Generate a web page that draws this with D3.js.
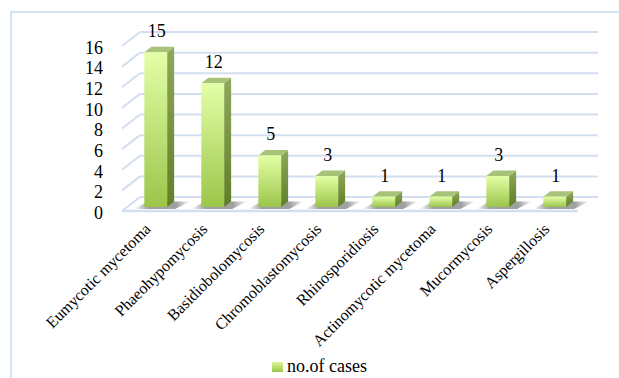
<!DOCTYPE html>
<html><head><meta charset="utf-8">
<script src="https://cdn.jsdelivr.net/npm/d3@7"></script>
</head>
<body style="margin:0">
<script>
const categories = ["Eumycotic mycetoma","Phaeohypomycosis","Basidiobolomycosis","Chromoblastomycosis","Rhinosporidiosis","Actinomycotic mycetoma","Mucormycosis","Aspergillosis"];
const cases = [15,12,5,3,1,1,3,1];
const yTicks = [0,2,4,6,8,10,12,14,16];
const seriesName = "no.of cases";

const W = 619, H = 378;
const FONT = '"Liberation Serif", "Times New Roman", serif';
const svg = d3.select("body").append("svg").attr("width", W).attr("height", H).style("display","block");
const defs = svg.append("defs");

const gFront = defs.append("linearGradient").attr("id","gFront").attr("x1",0).attr("y1",0).attr("x2",0).attr("y2",1);
gFront.append("stop").attr("offset","0%").attr("stop-color","#e3ffa6");
gFront.append("stop").attr("offset","100%").attr("stop-color","#9cc54a");
const gSide = defs.append("linearGradient").attr("id","gSide").attr("x1",0).attr("y1",0).attr("x2",0).attr("y2",1);
gSide.append("stop").attr("offset","0%").attr("stop-color","#8ea85c");
gSide.append("stop").attr("offset","100%").attr("stop-color","#5f7f27");
const gLeg = defs.append("linearGradient").attr("id","gLeg").attr("x1",0).attr("y1",0).attr("x2",0).attr("y2",1);
gLeg.append("stop").attr("offset","0%").attr("stop-color","#dcf89c");
gLeg.append("stop").attr("offset","100%").attr("stop-color","#9cc54a");
const gShadow = defs.append("linearGradient").attr("id","gShadow").attr("x1",0).attr("y1",0).attr("x2",1).attr("y2",0);
gShadow.append("stop").attr("offset","0%").attr("stop-color","#777").attr("stop-opacity",0);
gShadow.append("stop").attr("offset","25%").attr("stop-color","#777").attr("stop-opacity",0.7);
gShadow.append("stop").attr("offset","75%").attr("stop-color","#777").attr("stop-opacity",0.7);
gShadow.append("stop").attr("offset","100%").attr("stop-color","#777").attr("stop-opacity",0);

// outer border
svg.append("rect").attr("x",11).attr("y",12).attr("width",W).attr("height",H)
  .attr("fill","none").attr("stroke","#d5e2f3").attr("stroke-width",2);

// 3D geometry
const depthX = 18, depthY = -14;
const xScale = d3.scaleBand().domain(categories).range([122, 578]).paddingInner(0.6).paddingOuter(0.3);
const yFront = d3.scaleLinear().domain([0,16]).range([211, 46]);
const dFront = 0.29, dBack = 0.68;

const grid = svg.append("g");
const gridColor = "#d3dff0";
yTicks.forEach(t => {
  const yb = yFront(t) + depthY;
  grid.append("line").attr("x1",122+depthX).attr("x2",598).attr("y1",yb).attr("y2",yb)
    .attr("stroke",gridColor).attr("stroke-width",2);
  grid.append("line").attr("x1",122).attr("y1",yFront(t)).attr("x2",122+depthX).attr("y2",yb)
    .attr("stroke",gridColor).attr("stroke-width",2);
});
grid.append("line").attr("x1",122).attr("x2",578).attr("y1",yFront(0)).attr("y2",yFront(0))
  .attr("stroke",gridColor).attr("stroke-width",2.5);

// y tick labels
svg.append("g").selectAll("text").data(yTicks).join("text")
  .attr("x",103).attr("y",d=>yFront(d)+1.5).attr("dy","0.35em")
  .style("font-family",FONT)
  .attr("text-anchor","end").attr("font-size",18).attr("fill","#000").text(d=>d);

const bw = xScale.bandwidth();
const dx1 = depthX*dFront, dy1 = depthY*dFront;
const ddx = depthX*(dBack-dFront), ddy = depthY*(dBack-dFront);

// shadows
const sh = svg.append("g");
categories.forEach((c,i)=>{
  const x0 = xScale(c)+dx1, y0 = yFront(0)+dy1;
  sh.append("path")
    .attr("d",`M${x0-10},${y0+2} L${x0+bw+8},${y0+2} L${x0+bw+ddx+16},${y0+ddy} L${x0+ddx-4},${y0+ddy} Z`)
    .attr("fill","url(#gShadow)");
});

// bars
const bars = svg.append("g");
categories.forEach((c,i)=>{
  const v = cases[i];
  const x0 = xScale(c)+dx1;
  const yb = yFront(0)+dy1, yt = yFront(v)+dy1;
  bars.append("path")
    .attr("d",`M${x0+bw},${yt} L${x0+bw+ddx},${yt+ddy} L${x0+bw+ddx},${yb+ddy} L${x0+bw},${yb} Z`)
    .attr("fill","url(#gSide)");
  bars.append("path")
    .attr("d",`M${x0},${yt} L${x0+ddx},${yt+ddy} L${x0+bw+ddx},${yt+ddy} L${x0+bw},${yt} Z`)
    .attr("fill","#a6c378");
  bars.append("rect").attr("x",x0).attr("y",yt).attr("width",bw).attr("height",yb-yt)
    .attr("fill","url(#gFront)");
  bars.append("text").attr("x",x0+bw/2+1).attr("y",yt-15).attr("text-anchor","middle")
    .style("font-family",FONT)
    .attr("font-size",18).attr("fill","#000").text(v);
});

// category labels
svg.append("g").selectAll("text").data(categories).join("text")
  .attr("transform",d=>`translate(${xScale(d)+bw/2+1},${230}) rotate(-45)`)
  .style("font-family",FONT)
  .attr("text-anchor","end").attr("font-size",16).attr("fill","#000").text(d=>d);

// legend
svg.append("rect").attr("x",272).attr("y",362).attr("width",11).attr("height",10).attr("fill","url(#gLeg)");
svg.append("text").attr("x",287).attr("y",372).style("font-family",FONT)
  .attr("font-size",18).attr("fill","#000").text(seriesName);
</script>
</body></html>
